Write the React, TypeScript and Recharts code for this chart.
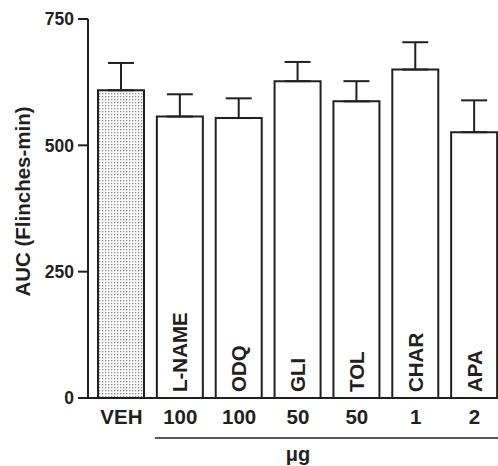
import { Bar, BarChart, Cell, ErrorBar, Label, LabelList, XAxis, YAxis } from "recharts";

const drugs = ["VEH", "L-NAME", "ODQ", "GLI", "TOL", "CHAR", "APA"];
const doses = ["VEH", "100", "100", "50", "50", "1", "2"];
const auc = [609, 557, 554, 627, 587, 650, 526];
const sem = [54, 44, 39, 38, 40, 54, 63];
const yTicks = [0, 250, 500, 750];

const data = drugs.map((drug, i) => ({
  drug,
  dose: doses[i],
  auc: auc[i],
  err: [0, sem[i]]
}));

const ink = "#231f20";
const font = "'Liberation Sans', Arial, Helvetica, sans-serif";

function BarName(props: any) {
  const { x, y, width, height, value } = props;
  if (value === "VEH") return null;
  const cx = x + width / 2;
  const by = y + height - 6;
  return (
    <text
      x={cx}
      y={by}
      dy="0.36em"
      transform={`rotate(-90, ${cx}, ${by})`}
      textAnchor="start"
      fill={ink}
      fontFamily={font}
      fontWeight="bold"
      fontSize={20.5}
    >
      {value}
    </text>
  );
}

function YTitle({ viewBox }: any) {
  const cy = viewBox.y + viewBox.height / 2 - 7;
  return (
    <text
      x={23}
      y={cy}
      dy="0.35em"
      transform={`rotate(-90, 23, ${cy})`}
      textAnchor="middle"
      fill={ink}
      fontFamily={font}
      fontWeight="bold"
      fontSize={20.5}
    >
      AUC (Flinches-min)
    </text>
  );
}

function DoseBracket({ viewBox }: any) {
  const band = (viewBox.width - 4) / drugs.length;
  const x0 = viewBox.x + 4 + band;
  const x1 = viewBox.x + viewBox.width;
  const yLine = viewBox.y + 40;
  return (
    <g>
      <line x1={x0 + 4} x2={x1} y1={yLine} y2={yLine} stroke={ink} strokeWidth={1.5} />
      <text
        x={viewBox.x + 4 + (viewBox.width - 4) / 2}
        y={yLine + 23}
        textAnchor="middle"
        fill={ink}
        fontFamily={font}
        fontWeight="bold"
        fontSize={20}
      >
        μg
      </text>
    </g>
  );
}

export default function App() {
  return (
    <div
      style={{
        position: "absolute",
        left: 0,
        top: 0,
        width: 498,
        height: 466,
        overflow: "hidden",
        background: "#fff"
      }}
    >
      <BarChart
        width={504}
        height={466}
        data={data}
        margin={{ top: 19, right: 0, bottom: 38, left: 0 }}
        barSize={46}
      >
        <defs>
          <pattern id="stipple" width="3" height="3" patternUnits="userSpaceOnUse">
            <rect width="3" height="3" fill="#fbfbfb" />
            <rect width="1.3" height="1.3" fill="#8f8f8f" />
          </pattern>
        </defs>
        <XAxis
          dataKey="drug"
          tickFormatter={(_v, i) => doses[i]}
          axisLine={{ stroke: ink, strokeWidth: 2 }}
          tickLine={false}
          tickMargin={5}
          padding={{ left: 4, right: 0 }}
          interval={0}
          height={30}
          tick={{ fill: ink, fontSize: 20.5, fontWeight: "bold", fontFamily: font }}
        >
          <Label content={DoseBracket} />
        </XAxis>
        <YAxis
          width={88}
          domain={[0, 750]}
          ticks={yTicks}
          axisLine={{ stroke: ink, strokeWidth: 2 }}
          tickLine={{ stroke: ink, strokeWidth: 2 }}
          tickSize={10}
          tickMargin={4}
          tick={{ fill: ink, fontSize: 17.5, fontWeight: "bold", fontFamily: font }}
        >
          <Label content={YTitle} />
        </YAxis>
        <Bar dataKey="auc" fill="#fff" stroke={ink} strokeWidth={2} isAnimationActive={false}>
          {data.map((d) => (
            <Cell key={d.drug} fill={d.drug === "VEH" ? "url(#stipple)" : "#fff"} />
          ))}
          <ErrorBar dataKey="err" width={13} stroke={ink} strokeWidth={2} direction="y" />
          <LabelList dataKey="drug" content={BarName} />
        </Bar>
      </BarChart>
    </div>
  );
}
